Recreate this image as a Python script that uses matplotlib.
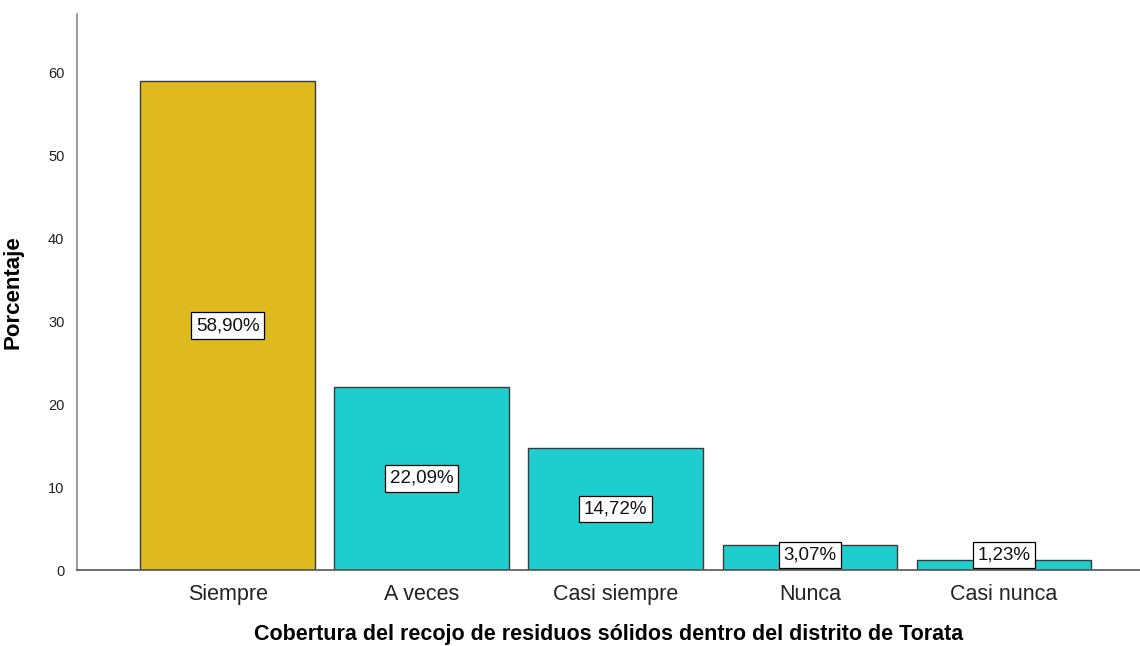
import numpy as np
import matplotlib.pyplot as plt

plt.rcParams['font.family'] = ['Liberation Sans', 'DejaVu Sans']

# Data
categorias = ['Siempre', 'A veces', 'Casi siempre', 'Nunca', 'Casi nunca']
porcentajes = [58.90, 22.09, 14.72, 3.07, 1.23]
colores = ['#DFBA1F', '#1ECECE', '#1ECECE', '#1ECECE', '#1ECECE']

fig = plt.figure(figsize=(11.4, 6.46), dpi=100)
ax = fig.add_axes([0.0675, 0.1176, 0.9325, 0.8607])

x = np.arange(len(categorias))
ax.bar(x, porcentajes, width=0.9, color=colores, edgecolor='#3a3a3a', linewidth=1.0, zorder=2)

# value labels in boxes (kept near the baseline for small bars)
for xi, v in zip(x, porcentajes):
    ax.text(xi, max(v / 2, 1.8), f"{v:.2f}%".replace('.', ','), ha='center', va='center',
            fontsize=13.5, color='#111111', zorder=3,
            bbox=dict(boxstyle='square,pad=0.25', facecolor='white', edgecolor='black', linewidth=0.9))

ax.set_xlim(-0.776, 4.70)
ax.set_ylim(0, 67)
ax.set_yticks(np.arange(0, 61, 10))
ax.set_xticks(x)
ax.set_xticklabels(categorias, fontsize=15.5, color='#222222')
ax.tick_params(axis='y', length=0, pad=9, labelsize=10.5, colors='#222222')
ax.tick_params(axis='x', length=0, pad=10)

for s in ['top', 'right']:
    ax.spines[s].set_visible(False)
ax.spines['left'].set_color('#888888')
ax.spines['bottom'].set_color('#555555')
ax.spines['left'].set_linewidth(1.2)
ax.spines['bottom'].set_linewidth(1.2)

ax.set_ylabel('Porcentaje', fontsize=16, fontweight='bold', labelpad=18)
ax.set_xlabel('Cobertura del recojo de residuos sólidos dentro del distrito de Torata',
              fontsize=15.5, fontweight='bold', labelpad=14)

fig.savefig('out.png', dpi=100)
